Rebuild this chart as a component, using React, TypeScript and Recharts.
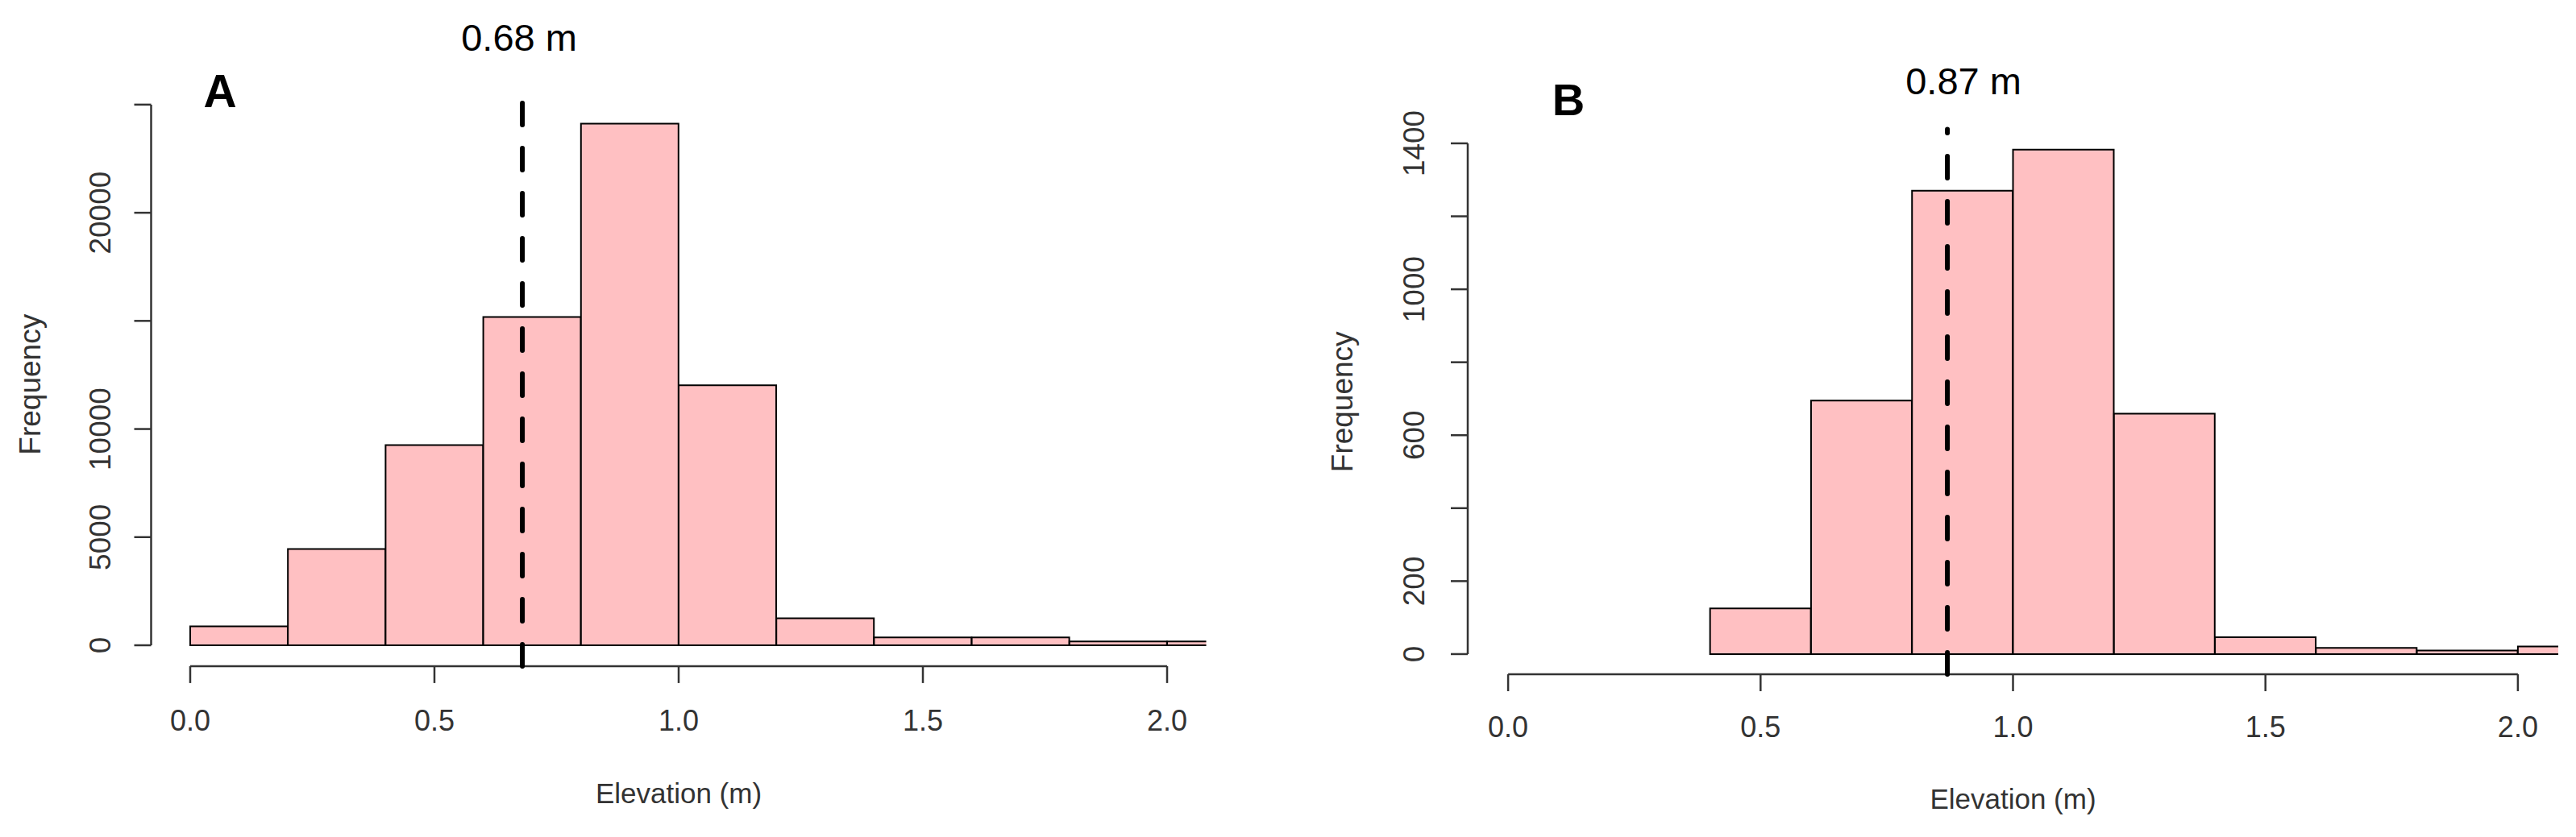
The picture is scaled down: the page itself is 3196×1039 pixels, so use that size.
import React from "react";
import { ComposedChart, Bar, XAxis, YAxis, ReferenceLine } from "recharts";

// ---------- data ----------
const binWidth = 0.2;
const binStartsA = [0.0, 0.2, 0.4, 0.6, 0.8, 1.0, 1.2, 1.4, 1.6, 1.8, 2.0];
const countsA = [880, 4450, 9260, 15180, 24120, 12020, 1250, 365, 360, 180, 175];
const binStartsB = [0.4, 0.6, 0.8, 1.0, 1.2, 1.4, 1.6, 1.8, 2.0];
const countsB = [125, 695, 1270, 1383, 659, 46, 17, 10, 21];

const xLimits = [0, 2];
const xTicks = [0, 0.5, 1, 1.5, 2];
const xTickLabels = ["0.0", "0.5", "1.0", "1.5", "2.0"];
const yTicksA = [0, 5000, 10000, 15000, 20000, 25000];
const yTickLabelsA = ["0", "5000", "10000", "", "20000", ""];
const yTicksB = [0, 200, 400, 600, 800, 1000, 1200, 1400];
const yTickLabelsB = ["0", "200", "", "600", "", "1000", "", "1400"];
const meanA = 0.68;
const meanB = 0.87;
const meanLabelA = "0.68 m";
const meanLabelB = "0.87 m";
const panelLabels = ["A", "B"];
const xTitle = "Elevation (m)";
const yTitle = "Frequency";

// ---------- helpers ----------
const FILL = "#FFC0C2";
const AXIS = "#333";
const FONT = "'Liberation Sans', Arial, sans-serif";

const buildBins = (starts: number[], counts: number[]) =>
  starts.map((s, i) => ({ mid: +(s + binWidth / 2).toFixed(3), count: counts[i] }));

const pad = (xLimits[1] - xLimits[0]) * 0.04;
const xMin = xLimits[0] - pad;
const xMax = xLimits[1] + pad;

const makeXTick = () => (props: any) => {
  const { x, y, payload } = props;
  const i = xTicks.findIndex((t) => Math.abs(t - payload.value) < 1e-6);
  return (
    <text x={x} y={y} dy="0.355em" textAnchor="middle" fontSize={36} fill={AXIS} fontFamily={FONT}>
      {i >= 0 ? xTickLabels[i] : ""}
    </text>
  );
};

const makeYTick = (ticks: number[], labels: string[]) => (props: any) => {
  const { x, y, payload } = props;
  const i = ticks.findIndex((t) => Math.abs(t - payload.value) < 1e-6);
  const label = i >= 0 ? labels[i] : "";
  if (!label) return <g />;
  return (
    <text
      x={x}
      y={y}
      dy="0.355em"
      textAnchor="middle"
      transform={`rotate(-90, ${x}, ${y})`}
      fontSize={37}
      fill={AXIS}
      fontFamily={FONT}
    >
      {label}
    </text>
  );
};

const makeMeanLabel = (text: string, dx: number, lift: number) => (props: any) => {
  const vb = props.viewBox || {};
  return (
    <text x={(vb.x || 0) + dx} y={(vb.y || 0) - lift} textAnchor="middle" fontSize={47} fill="#000" fontFamily={FONT}>
      {text}
    </text>
  );
};

type PanelProps = {
  starts: number[];
  counts: number[];
  yTicks: number[];
  yLabels: string[];
  mean: number;
  meanText: string;
  meanDx: number;
  meanLift: number;
  width: number;
  top: number;
  right: number;
  yAxisWidth: number;
  xAxisHeight: number;
  tickMarginY: number;
  tickMarginX: number;
  yTitleOffset: number;
  xTitleOffset: number;
};

const Panel = (p: PanelProps) => {
  const data = buildBins(p.starts, p.counts);
  const maxC = Math.max(...p.counts);
  const yMin = -0.04 * maxC;
  const yMax = 1.04 * maxC;
  return (
    <ComposedChart
      width={p.width}
      height={1039}
      data={data}
      margin={{ top: p.top, right: p.right, bottom: 0, left: 0 }}
      barCategoryGap={0}
      barGap={0}
    >
      <XAxis
        dataKey="mid"
        type="number"
        domain={[xMin, xMax]}
        allowDataOverflow
        ticks={xTicks}
        interval={0}
        height={p.xAxisHeight}
        axisLine={false}
        tickLine={{ stroke: AXIS, strokeWidth: 2.5 }}
        tickSize={21}
        tickMargin={p.tickMarginX}
        tick={makeXTick()}
        label={{
          value: xTitle,
          position: "insideBottom",
          offset: p.xTitleOffset,
          fontSize: 35,
          fill: AXIS,
          fontFamily: FONT,
        }}
      />
      <YAxis
        type="number"
        domain={[yMin, yMax]}
        allowDataOverflow
        ticks={p.yTicks}
        interval={0}
        width={p.yAxisWidth}
        axisLine={false}
        tickLine={{ stroke: AXIS, strokeWidth: 2.5 }}
        tickSize={21}
        tickMargin={p.tickMarginY}
        tick={makeYTick(p.yTicks, p.yLabels)}
        label={{
          value: yTitle,
          angle: -90,
          position: "insideLeft",
          offset: p.yTitleOffset,
          fontSize: 37,
          fill: AXIS,
          fontFamily: FONT,
          style: { textAnchor: "middle" },
        }}
      />
      <Bar dataKey="count" fill={FILL} stroke="#000" strokeWidth={2} isAnimationActive={false} />
      <ReferenceLine
        segment={[
          { x: xLimits[0], y: yMin },
          { x: xLimits[1], y: yMin },
        ]}
        stroke={AXIS}
        strokeWidth={2.5}
        ifOverflow="visible"
      />
      <ReferenceLine
        segment={[
          { x: xMin, y: 0 },
          { x: xMin, y: p.yTicks[p.yTicks.length - 1] },
        ]}
        stroke={AXIS}
        strokeWidth={2.5}
        ifOverflow="visible"
      />
      <ReferenceLine
        x={p.mean}
        stroke="#000"
        strokeWidth={6}
        strokeDasharray="27 29"
        strokeLinecap="round"
        ifOverflow="visible"
        label={makeMeanLabel(p.meanText, p.meanDx, p.meanLift)}
      />
    </ComposedChart>
  );
};

export default function App() {
  return (
    <div
      style={{
        position: "absolute",
        left: 0,
        top: 0,
        width: 3196,
        height: 1039,
        background: "#fff",
        fontFamily: FONT,
        overflow: "hidden",
      }}
    >
      <div style={{ position: "absolute", left: 0, top: 0 }}>
        <Panel
          starts={binStartsA}
          counts={countsA}
          yTicks={yTicksA}
          yLabels={yTickLabelsA}
          mean={meanA}
          meanText={meanLabelA}
          meanDx={-4}
          meanLift={65}
          width={1560}
          top={127.6}
          right={63.5}
          yAxisWidth={187.5}
          xAxisHeight={212.1}
          tickMarginY={43}
          tickMarginX={46}
          yTitleOffset={37}
          xTitleOffset={42}
        />
      </div>
      <div style={{ position: "absolute", left: 1560, top: 0 }}>
        <Panel
          starts={binStartsB}
          counts={countsB}
          yTicks={yTicksB}
          yLabels={yTickLabelsB}
          mean={meanB}
          meanText={meanLabelB}
          meanDx={20}
          meanLift={44}
          width={1636}
          top={160.6}
          right={22}
          yAxisWidth={261}
          xAxisHeight={202}
          tickMarginY={46.5}
          tickMarginX={44}
          yTitleOffset={105}
          xTitleOffset={35}
        />
      </div>
      <svg
        width={3196}
        height={1039}
        style={{ position: "absolute", left: 0, top: 0, pointerEvents: "none" }}
      >
        <text x={273} y={133} textAnchor="middle" fontSize={57} fontWeight="bold" fill="#000" fontFamily={FONT}>
          {panelLabels[0]}
        </text>
        <text x={1946} y={143} textAnchor="middle" fontSize={56} fontWeight="bold" fill="#000" fontFamily={FONT}>
          {panelLabels[1]}
        </text>
      </svg>
    </div>
  );
}
